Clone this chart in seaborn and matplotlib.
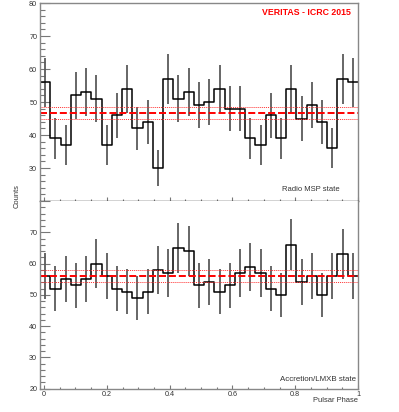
import numpy as np
import pandas as pd
import matplotlib
matplotlib.use('Agg')
import matplotlib.pyplot as plt
import seaborn as sns
from matplotlib.ticker import MultipleLocator

sns.set_style('ticks')
plt.rcParams['font.family'] = ['Liberation Sans', 'DejaVu Sans']

# phase histograms, 31 bins over one pulsar period
n_bins = 31
x_start = -0.013
radio_counts = [56, 39, 37, 52, 53, 51, 37, 46, 54, 42, 44, 30, 57, 51, 53, 49,
                50, 54, 48, 48, 39, 37, 46, 39, 54, 45, 49, 44, 36, 57, 56]
lmxb_counts = [56, 52, 55, 53, 55, 60, 56, 52, 51, 49, 51, 58, 57, 65, 64, 53,
               54, 51, 53, 57, 59, 57, 52, 50, 66, 54, 56, 50, 56, 63, 56]

# mean level and its band (dashed / dotted red lines)
radio_mean = [46.6, 48.4, 44.9]
lmxb_mean = [56.0, 58.0, 54.1]

xticks = [0, 0.2, 0.4, 0.6, 0.8, 1]
xtick_labels = ['0', '0.2', '0.4', '0.6', '0.8', '1']

edges = np.linspace(x_start, 1, n_bins + 1)
centers = 0.5 * (edges[:-1] + edges[1:])

fig = plt.figure(figsize=(3.99, 4.12), dpi=100)
ax_top = fig.add_axes([0.1003, 0.5121, 0.7969, 0.4806])
ax_bot = fig.add_axes([0.1003, 0.0568, 0.7969, 0.4553])


def draw_panel(ax, counts, mean_band):
    df = pd.DataFrame({'phase': centers, 'counts': np.array(counts, dtype=float)})
    sns.histplot(data=df, x='phase', weights='counts', bins=list(edges),
                 element='step', fill=False, color='black', linewidth=1.1, ax=ax)
    ax.errorbar(df['phase'], df['counts'], yerr=np.sqrt(df['counts']), fmt='none',
                ecolor='#5a5a5a', elinewidth=1.3, capsize=0, zorder=1)
    ax.axhline(mean_band[0], color='#ff0000', lw=1.4, dashes=(3.6, 1.5))
    ax.axhline(mean_band[1], color='#ff3030', lw=0.7, linestyle=(0, (1, 1)))
    ax.axhline(mean_band[2], color='#ff3030', lw=0.7, linestyle=(0, (1, 1)))
    ax.set_xlim(x_start, 1)
    ax.set_ylim(20, 80)
    ax.set_xlabel('')
    ax.set_ylabel('')
    ax.set_xticks(xticks)
    ax.xaxis.set_minor_locator(MultipleLocator(0.05))
    ax.yaxis.set_minor_locator(MultipleLocator(2))
    ax.tick_params(axis='y', which='major', direction='in', length=7,
                   width=0.8, color='#777777', labelsize=5.2, labelcolor='#333333', pad=2)
    ax.tick_params(axis='y', which='minor', direction='in', length=3.5,
                   width=0.8, color='#777777')
    ax.tick_params(axis='x', which='major', direction='in', length=3,
                   width=0.8, color='#777777', labelsize=5.2, labelcolor='#333333', pad=2)
    ax.tick_params(axis='x', which='minor', direction='in', length=1.8,
                   width=0.8, color='#777777')
    for s in ax.spines.values():
        s.set_color('#888888')
        s.set_linewidth(1.0)
    return ax


draw_panel(ax_top, radio_counts, radio_mean)
draw_panel(ax_bot, lmxb_counts, lmxb_mean)

ax_top.set_yticks([20, 30, 40, 50, 60, 70, 80])
ax_top.set_yticklabels(['', '30', '40', '50', '60', '70', '80'])
ax_top.set_xticklabels([])
ax_top.spines['bottom'].set_color('#222222')

ax_bot.set_yticks([20, 30, 40, 50, 60, 70, 80])
ax_bot.set_yticklabels(['20', '30', '40', '50', '60', '70', ''])
ax_bot.set_xticklabels(xtick_labels)
ax_bot.spines['top'].set_visible(False)

ax_top.text(0.978, 0.952, 'VERITAS - ICRC 2015', transform=ax_top.transAxes,
            ha='right', va='center', color='#ff0000', fontsize=6.3, fontweight='bold')
ax_top.text(0.943, 0.06, 'Radio MSP state', transform=ax_top.transAxes,
            ha='right', va='center', color='#333333', fontsize=5.5)
ax_bot.text(0.993, 0.046, 'Accretion/LMXB state', transform=ax_bot.transAxes,
            ha='right', va='center', color='#333333', fontsize=5.7)

fig.text(0.897, 0.027, 'Pulsar Phase', ha='right', va='center',
         color='#333333', fontsize=5.4)
fig.text(0.043, 0.524, 'Counts', ha='center', va='center', rotation=90,
         color='#333333', fontsize=5.4)

fig.savefig('out.png', dpi=100)
